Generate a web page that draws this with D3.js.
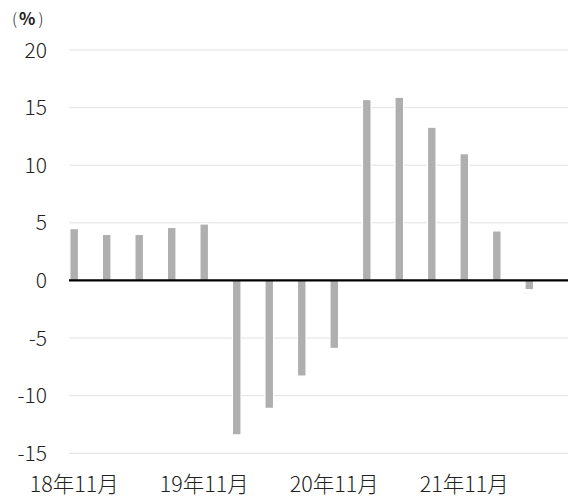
<!DOCTYPE html>
<html>
<head>
<meta charset="utf-8">
<script src="https://cdn.jsdelivr.net/npm/d3@7.9.0/dist/d3.min.js"></script>
<style>
  body { margin: 0; background: #fff; }
  svg text { font-family: "Noto Sans CJK JP", "Noto Sans", sans-serif; fill: #222; font-weight: 300; }
</style>
</head>
<body>
<svg width="574" height="498"></svg>
<script>
// quarterly values, Nov 2018 .. May 2022
const months = ["18年11月", "19年2月", "19年5月", "19年8月", "19年11月", "20年2月", "20年5月", "20年8月",
  "20年11月", "21年2月", "21年5月", "21年8月", "21年11月", "22年2月", "22年5月"];
const values = [4.5, 4.0, 4.0, 4.6, 4.9, -13.4, -11.1, -8.3, -5.9, 15.7, 15.9, 13.3, 11.0, 4.3, -0.8];
const yTicks = [20, 15, 10, 5, 0, -5, -10, -15];
const labelIdx = [0, 4, 8, 12];

const svg = d3.select("svg");

const x = d3.scaleLinear().domain([-0.16, 15.19]).range([69, 568]);
const y = d3.scaleLinear().domain([-15, 20]).range([453.3, 50]);
const barW = 8.6;

// gridlines
svg.append("g")
  .selectAll("line")
  .data(yTicks.filter((d) => d !== 0))
  .join("line")
  .attr("x1", x.range()[0])
  .attr("x2", x.range()[1])
  .attr("y1", (d) => y(d))
  .attr("y2", (d) => y(d))
  .attr("stroke", "#e2e2e2")
  .attr("stroke-width", 1);

// y labels
svg.append("g")
  .selectAll("text")
  .data(yTicks)
  .join("text")
  .attr("x", 47)
  .attr("y", (d) => y(d))
  .attr("dy", "0.36em")
  .attr("text-anchor", "end")
  .attr("font-size", 21)
  .text((d) => d);

// bars
svg.append("g")
  .selectAll("rect")
  .data(values)
  .join("rect")
  .attr("x", (d, i) => x(i) - barW / 2)
  .attr("width", barW)
  .attr("y", (d) => y(Math.max(0, d)))
  .attr("height", (d) => Math.abs(y(d) - y(0)))
  .attr("fill", "#afafaf")
  .attr("stroke", "#fff")
  .attr("stroke-width", 1.2);

// zero line
svg.append("line")
  .attr("x1", x.range()[0])
  .attr("x2", x.range()[1])
  .attr("y1", y(0))
  .attr("y2", y(0))
  .attr("stroke", "#000")
  .attr("stroke-width", 2.2);

// x labels
svg.append("g")
  .selectAll("text")
  .data(labelIdx)
  .join("text")
  .attr("x", (i) => x(i))
  .attr("y", 492)
  .attr("text-anchor", "middle")
  .attr("font-size", 21.5)
  .text((i) => months[i]);

// unit
const unit = svg.append("text")
  .attr("x", 12)
  .attr("y", 25)
  .attr("font-size", 16);
unit.append("tspan").text("(");
unit.append("tspan").attr("dx", 2).attr("font-weight", 700).attr("font-size", 17).text("%");
unit.append("tspan").attr("dx", 3).text(")");
</script>
</body>
</html>
